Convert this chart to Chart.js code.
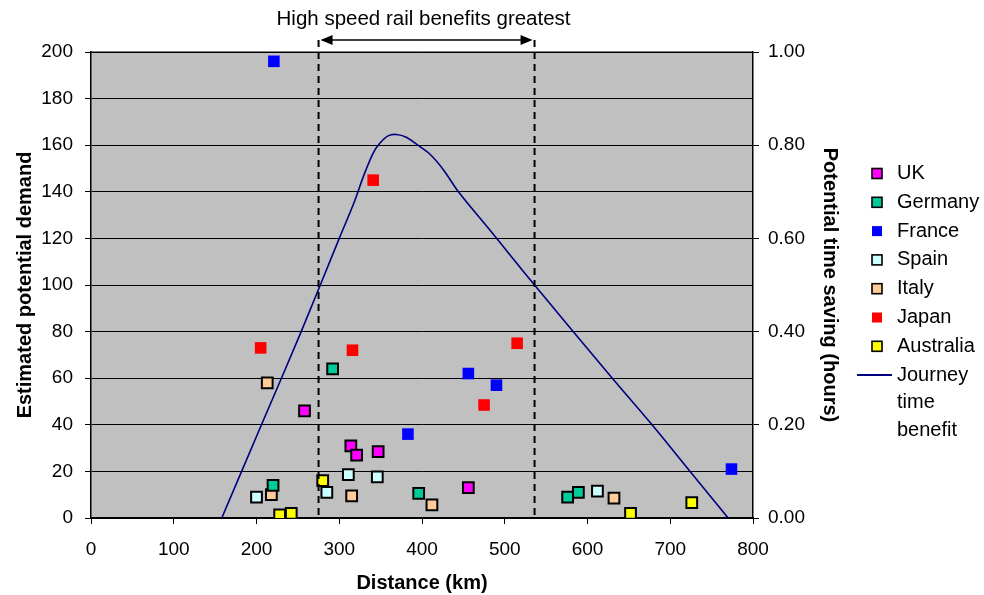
<!DOCTYPE html>
<html>
<head>
<meta charset="utf-8">
<title>High speed rail benefits</title>
<script src="https://cdn.jsdelivr.net/npm/chart.js@4.4.1/dist/chart.umd.min.js"></script>
<style>
  html, body { margin: 0; padding: 0; background: #ffffff; }
  #wrap { width: 984px; height: 595px; }
</style>
</head>
<body>
<div id="wrap"><canvas id="rail-chart" width="984" height="595"></canvas></div>
<script>
"use strict";

// Data: distance (km) and estimated potential demand per country
const ukKm = [258, 314, 321, 347, 456];
const ukDemand = [46, 31, 27, 28.5, 13];
const germanyKm = [292, 220, 396, 576, 589];
const germanyDemand = [64, 14, 10.6, 9, 11];
const franceKm = [221, 383, 456, 490, 774];
const franceDemand = [196, 36, 62, 57, 21];
const spainKm = [200, 285, 311, 346, 612];
const spainDemand = [9, 11, 18.6, 17.7, 11.5];
const italyKm = [213, 218, 315, 412, 632];
const italyDemand = [58, 10, 9.5, 5.6, 8.5];
const japanKm = [205, 316, 341, 475, 515];
const japanDemand = [73, 72, 145, 48.5, 75];
const australiaKm = [228, 242, 280, 652, 726];
const australiaDemand = [1.3, 2, 16, 2, 6.6];

// Journey time benefit curve (hours, right axis)
const journeyKm = [158, 206, 254, 300, 319, 329, 341, 349, 359, 369, 381, 395, 410, 426, 444, 482, 536, 630, 678, 724, 770];
const journeyHours = [0, 0.2, 0.4, 0.6, 0.682, 0.732, 0.783, 0.804, 0.82, 0.823, 0.817, 0.8, 0.78, 0.747, 0.7, 0.618, 0.5, 0.3, 0.2, 0.1, 0];

// Range where high speed rail benefits greatest
const bandKm = [275, 536];
const bandLabel = "High speed rail benefits greatest";

const xTicks = [0, 100, 200, 300, 400, 500, 600, 700, 800];

const FONT = "'Liberation Sans', Arial, sans-serif";

function points(xs, ys) {
    return xs.map((x, i) => ({ x: x, y: ys[i] }));
}

function marker(label, xs, ys, color, bordered) {
    return {
        label: label,
        data: points(xs, ys),
        yAxisID: "y",
        pointStyle: "rect",
        pointRadius: bordered ? 7.6 : 8.2,
        pointHoverRadius: 8,
        backgroundColor: color,
        borderColor: bordered ? "#000000" : color,
        pointBorderWidth: bordered ? 2 : 0,
        showLine: false,
        bordered: bordered
    };
}

const datasets = [
    marker("UK", ukKm, ukDemand, "#FF00FF", true),
    marker("Germany", germanyKm, germanyDemand, "#00CC99", true),
    marker("France", franceKm, franceDemand, "#0000FF", false),
    marker("Spain", spainKm, spainDemand, "#CCFFFF", true),
    marker("Italy", italyKm, italyDemand, "#FFCC99", true),
    marker("Japan", japanKm, japanDemand, "#FF0000", false),
    marker("Australia", australiaKm, australiaDemand, "#FFFF00", true),
    {
        label: "Journey time benefit",
        data: points(journeyKm, journeyHours),
        yAxisID: "y2",
        showLine: true,
        borderColor: "#000080",
        borderWidth: 1.6,
        pointRadius: 0,
        tension: 0.35,
        fill: false
    }
];

// Plot background and frame
const plotBack = {
    id: "plotBack",
    beforeDraw(chart) {
        const { ctx, chartArea: a } = chart;
        ctx.save();
        ctx.fillStyle = "#C0C0C0";
        ctx.fillRect(a.left, a.top, a.right - a.left, a.bottom - a.top);
        ctx.strokeStyle = "#808080";
        ctx.lineWidth = 2;
        ctx.beginPath();
        ctx.moveTo(a.left, a.top);
        ctx.lineTo(a.right, a.top);
        ctx.stroke();
        ctx.restore();
    }
};

// Dashed band lines with the double arrow and its label
const bandMarks = {
    id: "bandMarks",
    afterDatasetsDraw(chart) {
        const { ctx, chartArea: a } = chart;
        const xs = chart.scales.x;
        const x1 = xs.getPixelForValue(bandKm[0]);
        const x2 = xs.getPixelForValue(bandKm[1]);
        const arrowY = 40;
        ctx.save();
        ctx.strokeStyle = "#000000";
        ctx.lineWidth = 2;
        ctx.setLineDash([7, 5]);
        [x1, x2].forEach(x => {
            ctx.beginPath();
            ctx.moveTo(x, arrowY);
            ctx.lineTo(x, a.bottom);
            ctx.stroke();
        });
        ctx.setLineDash([]);
        ctx.lineWidth = 1.5;
        ctx.beginPath();
        ctx.moveTo(x1 + 4, arrowY);
        ctx.lineTo(x2 - 4, arrowY);
        ctx.stroke();
        ctx.fillStyle = "#000000";
        ctx.beginPath();
        ctx.moveTo(x1 + 2, arrowY);
        ctx.lineTo(x1 + 14, arrowY - 5);
        ctx.lineTo(x1 + 14, arrowY + 5);
        ctx.closePath();
        ctx.fill();
        ctx.beginPath();
        ctx.moveTo(x2 - 2, arrowY);
        ctx.lineTo(x2 - 14, arrowY - 5);
        ctx.lineTo(x2 - 14, arrowY + 5);
        ctx.closePath();
        ctx.fill();
        ctx.font = "20.5px " + FONT;
        ctx.textAlign = "center";
        ctx.textBaseline = "middle";
        ctx.fillText(bandLabel, (x1 + x2) / 2 - 3, 19);
        ctx.restore();
    }
};

// Legend on the right, drawn from the datasets
const sideLegend = {
    id: "sideLegend",
    afterDraw(chart) {
        const ctx = chart.ctx;
        const boxX = 872, textX = 897, rowY = 173.5, step = 28.8;
        ctx.save();
        ctx.font = "20px " + FONT;
        ctx.textBaseline = "middle";
        ctx.fillStyle = "#000000";
        chart.data.datasets.forEach((ds, i) => {
            const y = rowY + i * step;
            if (ds.showLine) {
                ctx.strokeStyle = ds.borderColor;
                ctx.lineWidth = 2;
                ctx.beginPath();
                ctx.moveTo(857, y);
                ctx.lineTo(892, y);
                ctx.stroke();
                ctx.fillStyle = "#000000";
                const words = ds.label.split(" ");
                words.forEach((w, j) => ctx.fillText(w, textX, y + j * 27.5));
            } else {
                ctx.fillStyle = ds.backgroundColor;
                ctx.fillRect(boxX, y - 5, 10, 10);
                if (ds.bordered) {
                    ctx.strokeStyle = "#000000";
                    ctx.lineWidth = 1.6;
                    ctx.strokeRect(boxX, y - 5, 10, 10);
                }
                ctx.fillStyle = "#000000";
                ctx.fillText(ds.label, textX, y);
            }
        });
        ctx.restore();
    }
};

const tickFont = { family: FONT, size: 19 };
const titleFont = { family: FONT, size: 20, weight: "bold" };

const config = {
    type: "scatter",
    data: { datasets: datasets },
    options: {
        responsive: false,
        animation: false,
        devicePixelRatio: 1,
        layout: { padding: { top: 52, right: 131, left: 0, bottom: 0 } },
        plugins: {
            legend: { display: false },
            tooltip: { enabled: false }
        },
        scales: {
            x: {
                type: "linear",
                min: 0,
                max: 800,
                afterBuildTicks: s => { s.ticks = xTicks.map(v => ({ value: v })); },
                afterFit: s => { s.height = 77; },
                ticks: { font: tickFont, color: "#000000", padding: 14, maxRotation: 0 },
                grid: { drawOnChartArea: false, drawTicks: true, tickLength: 6, color: "#000000" },
                border: { color: "#000000", width: 1.5 },
                title: { display: true, text: "Distance (km)", font: titleFont, color: "#000000", padding: { top: 0, bottom: 0 } }
            },
            y: {
                position: "left",
                min: 0,
                max: 200,
                afterFit: s => { s.width = 91; },
                ticks: { stepSize: 20, font: tickFont, color: "#000000", padding: 12 },
                grid: { color: "#000000", lineWidth: 1, tickLength: 6 },
                border: { color: "#000000", width: 1.5 },
                title: { display: true, text: "Estimated potential demand", font: titleFont, color: "#000000", padding: { top: 13, bottom: 0 } }
            },
            y2: {
                position: "right",
                min: 0,
                max: 1,
                afterFit: s => { s.width = 100; },
                ticks: { stepSize: 0.2, font: tickFont, color: "#000000", padding: 9, callback: v => v.toFixed(2) },
                grid: { drawOnChartArea: false, color: "#000000", tickLength: 6 },
                border: { color: "#000000", width: 1.5 },
                title: { display: true, text: "Potential time saving (hours)", font: titleFont, color: "#000000", padding: { top: 11, bottom: 0 } }
            }
        }
    },
    plugins: [plotBack, bandMarks, sideLegend]
};

const railChart = new Chart(document.getElementById("rail-chart"), config);
</script>
</body>
</html>
